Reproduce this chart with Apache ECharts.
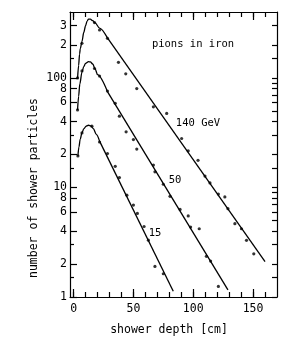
<!DOCTYPE html>
<html><head><meta charset="utf-8">
<script src="https://cdn.jsdelivr.net/npm/echarts@6/dist/echarts.min.js"></script>
<style>html,body{margin:0;padding:0;background:#fff}#c{width:299px;height:352px}</style>
</head><body><div id="c"></div>
<script>
// ---- data ----
const xLabelValues = [0, 50, 100, 150];
const xTickValues = [0, 10, 20, 30, 40, 50, 60, 70, 80, 90, 100, 110, 120, 130, 140, 150, 160];
const yLabelValues = [1, 2, 4, 6, 8, 10, 20, 40, 60, 80, 100, 200, 300];
const yLabelTexts  = ['1', '2', '4', '6', '8', '10', '2', '4', '6', '8', '100', '2', '3'];
const yShortTicks = [1.5, 3, 15, 30, 150];
const yRightTicks = [1, 1.5, 2, 3, 4, 5, 6, 7, 8, 9, 10, 15, 20, 30, 40, 50, 60, 70, 80, 90, 100, 150, 200, 300];

// fitted curves: rounded rise/peak part, then straight (exponential) tail
const curve140Head = [[3.3,98],[4.2,130],[5,165],[5.6,185],[7,215],[8.5,260],[10,300],[11.3,330],[12.5,345],[14,344],[16,333],[18,318],[21.7,285],[28.3,232]];
const curve140Tail = [[28.3,232],[160,2.1]];
const curve50Head  = [[3.3,51],[4.2,68],[5.2,88],[7,113],[8.5,127],[10,136],[12.5,141],[14,140],[16,134],[18,121],[20,107],[28.3,75]];
const curve50Tail  = [[28.3,75],[129,1.16]];
const curve15Head  = [[3.6,19.4],[4.5,23.5],[5.5,27.5],[7,31.5],[8.5,34.3],[10.5,36.3],[12.5,37],[14.5,36.5],[16.5,34.5],[19,30.5],[21.7,26.5]];
const curve15Tail  = [[21.7,26.5],[83.3,1.13]];

const points140 = [[3.3,100],[7,207],[17.5,320],[21.7,274],[28.3,230],[37.5,139],[43.6,109],[52.8,80],[66.7,54.5],[77.8,47.4],[90.3,28],[95.8,21.6],[104,17.7],[109.8,12.7],[114,11],[121,8.7],[126.4,8.2],[129,6.4],[134.8,4.67],[140.3,4.2],[144.5,3.29],[150.6,2.48]];
const points50  = [[3.3,51],[7,116],[17.5,122],[21.7,104],[28.3,76],[34.8,58.6],[38.3,44.8],[43.9,32.2],[50,27.4],[52.8,22.4],[66.7,16],[68,13.9],[75,10.7],[80.6,8.3],[89,6.3],[95.8,5.5],[97.8,4.35],[105,4.2],[111,2.35],[114.5,2.13],[121,1.25]];
const points15  = [[3.6,19.4],[7,31.5],[15.3,36.3],[21.7,26],[28.3,20.4],[34.8,15.6],[38.3,12.3],[44.5,8.5],[50,6.9],[53.3,5.8],[58.9,4.4],[62.5,3.3],[68,1.9],[75,1.63]];

const seriesNames = ['140 GeV', '50', '15'];
const titleText = 'pions in iron';
const xName = 'shower depth [cm]';
const yName = 'number of shower particles';

// ---- chart ----
const FONT = 'DejaVu Sans Mono';
const BLACK = '#000';
const X_MIN = -3, X_MAX = 170, Y_MIN = 1, Y_MAX = 400;

function yFmt(v) {
  for (let i = 0; i < yLabelValues.length; i++) {
    if (Math.abs(v - yLabelValues[i]) / yLabelValues[i] < 1e-6) return yLabelTexts[i];
  }
  return '';
}

const lineStyle = { color: BLACK, width: 1.2 };
const baseX = (pos, extra) => Object.assign({
  type: 'value', min: X_MIN, max: X_MAX, position: pos,
  axisLine: { show: false, onZero: false },
  axisLabel: { show: false },
  splitLine: { show: false }
}, extra);
const baseY = (pos, extra) => Object.assign({
  type: 'log', logBase: 10, min: Y_MIN, max: Y_MAX, position: pos,
  axisLine: { show: false, onZero: false },
  axisLabel: { show: false },
  splitLine: { show: false }
}, extra);

const chart = echarts.init(document.getElementById('c'), null, { renderer: 'canvas' });

function lineSeries(data, smooth) {
  return { type: 'line', data, showSymbol: false, smooth: smooth ? 0.3 : false, smoothMonotone: 'x',
    lineStyle: { color: BLACK, width: 1.3 }, silent: true, animation: false, z: 2 };
}
function dotSeries(data) {
  return { type: 'scatter', data, symbolSize: 3.2, itemStyle: { color: BLACK }, silent: true, animation: false, z: 3 };
}

const txt = (x, y, text, size, extra) => Object.assign({ type: 'text', x, y,
  style: { text, fill: BLACK, font: size + 'px "' + FONT + '"', textAlign: 'center', textVerticalAlign: 'middle' } }, extra || {});

chart.setOption({
  animation: false,
  backgroundColor: '#fff',
  grid: { left: 70, right: 22, top: 12, bottom: 55, containLabel: false },
  xAxis: [
    baseX('bottom', {
      axisLine: { show: true, onZero: false, lineStyle },
      axisTick: { show: true, inside: true, length: 5, customValues: xTickValues, lineStyle },
      axisLabel: { show: true, customValues: xLabelValues, color: BLACK, fontFamily: FONT, fontSize: 11.5, margin: 6 }
    }),
    baseX('bottom', { axisTick: { show: true, inside: true, length: 8, customValues: xLabelValues, lineStyle } }),
    baseX('top', {
      axisLine: { show: true, onZero: false, lineStyle },
      axisTick: { show: true, inside: true, length: 5, customValues: xTickValues, lineStyle }
    }),
    baseX('top', { axisTick: { show: true, inside: true, length: 8, customValues: xLabelValues, lineStyle } })
  ],
  yAxis: [
    baseY('left', {
      axisLine: { show: true, onZero: false, lineStyle },
      axisTick: { show: true, inside: true, length: 7, customValues: yLabelValues, lineStyle },
      axisLabel: { show: true, customValues: yLabelValues, formatter: yFmt, color: BLACK, fontFamily: FONT, fontSize: 11.5, margin: 3 }
    }),
    baseY('left', { axisTick: { show: true, inside: true, length: 4, customValues: yShortTicks, lineStyle } }),
    baseY('right', {
      axisLine: { show: true, onZero: false, lineStyle },
      axisTick: { show: true, inside: true, length: 5, customValues: yRightTicks, lineStyle }
    })
  ],
  series: [
    lineSeries(curve140Head, true), lineSeries(curve140Tail, false),
    lineSeries(curve50Head, true), lineSeries(curve50Tail, false),
    lineSeries(curve15Head, true), lineSeries(curve15Tail, false),
    dotSeries(points140), dotSeries(points50), dotSeries(points15)
  ],
  graphic: [
    txt(193, 44, titleText, 10.5),
    txt(198, 123, seriesNames[0], 10.5),
    txt(175, 180, seriesNames[1], 10.5),
    txt(155, 233, seriesNames[2], 10.5),
    txt(169, 330, xName, 11.5),
    txt(34, 188, yName, 11.5, { rotation: Math.PI / 2 })
  ]
});
</script>
</body></html>
